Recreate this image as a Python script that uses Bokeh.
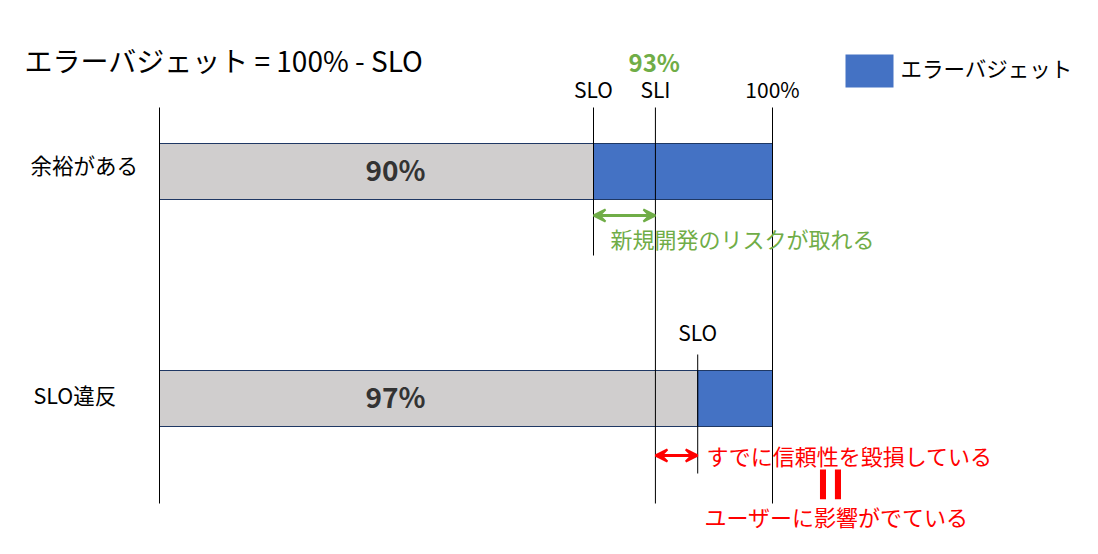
import math
from bokeh.plotting import figure
from bokeh.models import Range1d, Arrow, VeeHead
from bokeh.core.properties import value
from bokeh.embed import file_html
from bokeh.resources import INLINE

# ---------------- data ----------------
title_text = "エラーバジェット = 100% - SLO"
legend_label = "エラーバジェット"
scenarios = ["余裕がある", "SLO違反"]
slo_values = [90, 97]
slo_labels = ["90%", "97%"]
sli_value = 93
sli_label = "93%"
total_value = 100
total_label = "100%"
note_ok = "新規開発のリスクが取れる"
note_bad = "すでに信頼性を毀損している"
note_bad2 = "ユーザーに影響がでている"

# schematic (not-to-scale) positions of the percentages on the diagram axis
schematic = {0: 0.0, 90: 70.8, 93: 80.9, 97: 87.8, 100: 100.0}
def pos(p):
    return schematic[p]

FONT = value("Noto Sans CJK JP")
GRAY = "#d0cece"
BLUE = "#4472c4"
GREEN = "#70ad47"
RED = "#ff0000"
EDGE = "#1f3864"

PX = 6.13  # pixels per diagram unit
X0 = 159
def ux(px):
    return (px - X0) / PX

DY = -3  # text vertical nudge

p = figure(width=1098, height=554, output_backend="svg", toolbar_location=None,
           x_range=Range1d(ux(0), ux(1098)), y_range=Range1d(554, 0),
           x_axis_location=None, y_axis_location=None, min_border=0,
           outline_line_color=None, background_fill_color="white", border_fill_color="white")
p.grid.visible = False

row_y = [171, 398]
bar_h = 56

# bars
p.hbar(y=row_y, left=[pos(0)] * 2, right=[pos(v) for v in slo_values], height=bar_h,
       fill_color=GRAY, line_color=EDGE, line_width=1)
p.hbar(y=row_y, left=[pos(v) for v in slo_values], right=[pos(total_value)] * 2, height=bar_h,
       fill_color=BLUE, line_color=EDGE, line_width=1)

# vertical reference lines
p.segment(x0=[pos(0), pos(total_value), pos(sli_value), pos(slo_values[0]), pos(slo_values[1])],
          x1=[pos(0), pos(total_value), pos(sli_value), pos(slo_values[0]), pos(slo_values[1])],
          y0=[107, 107, 107, 107, 354], y1=[503, 503, 503, 255, 473],
          line_color="black", line_width=1)

# top labels
p.text(x=[pos(slo_values[0]), pos(sli_value), pos(total_value)], y=[91 + DY] * 3,
       text=["SLO", "SLI", total_label], text_font=FONT, text_font_size="21px",
       text_align="center", text_baseline="middle", text_color="black")
p.text(x=[pos(sli_value) - 0.2], y=[64 + DY], text=[sli_label], text_font=FONT, text_font_size="24px",
       text_font_style="bold", text_align="center", text_baseline="middle", text_color=GREEN)
p.text(x=[pos(slo_values[1])], y=[334 + DY], text=["SLO"], text_font=FONT, text_font_size="21px",
       text_align="center", text_baseline="middle", text_color="black")

# row labels
p.text(x=[ux(30), ux(33)], y=[167 + DY, 397 + DY], text=scenarios, text_font=FONT,
       text_font_size="21.5px", text_align="left", text_baseline="middle", text_color="black")

# value labels in bars
p.text(x=[ux(395)] * 2, y=[v + DY for v in row_y], text=slo_labels, text_font=FONT,
       text_font_size="28px", text_font_style="bold", text_align="center",
       text_baseline="middle", text_color="#333333")

# arrows
p.add_layout(Arrow(x_start=pos(slo_values[0]), x_end=pos(sli_value), y_start=215, y_end=215,
                   line_color=GREEN, line_width=3,
                   start=VeeHead(size=12, line_color=GREEN, fill_color=GREEN, line_width=2),
                   end=VeeHead(size=12, line_color=GREEN, fill_color=GREEN, line_width=2)))
p.add_layout(Arrow(x_start=pos(sli_value), x_end=pos(slo_values[1]), y_start=455, y_end=455,
                   line_color=RED, line_width=3,
                   start=VeeHead(size=12, line_color=RED, fill_color=RED, line_width=2),
                   end=VeeHead(size=12, line_color=RED, fill_color=RED, line_width=2)))

# notes
p.text(x=[ux(610)], y=[240 + DY], text=[note_ok], text_font=FONT, text_font_size="22px",
       text_align="left", text_baseline="middle", text_color=GREEN)
p.text(x=[ux(706), ux(704)], y=[457 + DY, 518 + DY], text=[note_bad, note_bad2], text_font=FONT,
       text_font_size="22px", text_align="left", text_baseline="middle", text_color=RED)
p.text(x=[ux(826)], y=[484], text=["="], text_font=FONT, text_font_size="58px",
       text_font_style="bold", angle=math.pi / 2, text_align="center", text_baseline="middle",
       text_color=RED)

# title
p.text(x=[ux(24)], y=[62 + DY], text=[title_text], text_font=FONT, text_font_size="28px",
       text_align="left", text_baseline="middle", text_color="black")

# legend
p.quad(left=[ux(845)], right=[ux(893)], top=[54], bottom=[87], fill_color=BLUE, line_color=None)
p.text(x=[ux(900)], y=[70 + DY], text=[legend_label], text_font=FONT, text_font_size="21.5px",
       text_align="left", text_baseline="middle", text_color="black")

open("out.html", "w").write(file_html(p, INLINE))
